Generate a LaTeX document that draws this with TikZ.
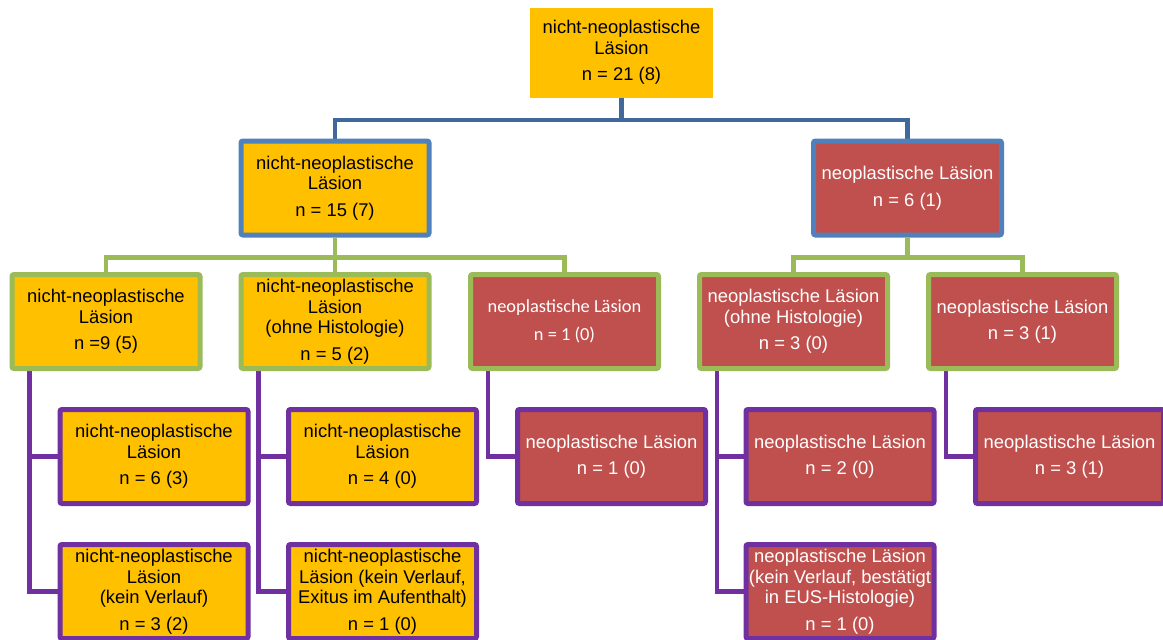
\documentclass[tikz,border=0pt]{standalone}
\usepackage{fontspec}
\setmainfont{Liberation Sans}
\newfontfamily\calibrifont{Carlito}
\usetikzlibrary{positioning,backgrounds}
\definecolor{boxyellow}{RGB}{255,192,0}
\definecolor{boxred}{RGB}{192,80,77}
\definecolor{lineblue}{RGB}{65,104,154}
\definecolor{frameblue}{RGB}{79,129,189}
\definecolor{linegreen}{RGB}{155,187,89}
\definecolor{linepurple}{RGB}{112,48,160}

\begin{document}
\begin{tikzpicture}[x=1pt,y=-1pt,
box/.style={rectangle,rounded corners=2pt,line width=5pt,minimum width=188pt,minimum height=94pt,inner sep=0pt,align=center,font=\fontsize{18.4}{20.5}\selectfont},
nnl/.style={box,fill=boxyellow,text=black},
nl/.style={box,fill=boxred,text=white},
lvone/.style={draw=frameblue},
lvtwo/.style={draw=linegreen},
lvthree/.style={draw=linepurple},
conn/.style={line width=4.5pt}]
\useasboundingbox (0,0) rectangle (1163,640);
\node[nnl,sharp corners,line width=0pt,minimum width=183pt,minimum height=90pt] (root) at (621.5,52.5) {nicht-neoplastische\\Läsion\\[6pt]n = 21 (8)};
\node[nnl,lvone] (l1a) at (335,188) {nicht-neoplastische\\Läsion\\[6pt]n = 15 (7)};
\node[nl,lvone] (l1b) at (907.5,188) {neoplastische Läsion\\[6pt]n = 6 (1)};
\node[nnl,lvtwo] (l2a) at (106,321.5) {nicht-neoplastische\\Läsion\\[6pt]n =9 (5)};
\node[nnl,lvtwo] (l2b) at (335,321.5) {nicht-neoplastische\\Läsion\\(ohne Histologie)\\[6pt]n = 5 (2)};
\node[nl,lvtwo,font=\calibrifont\fontsize{18.4}{22}\selectfont] (l2c) at (564.5,321.5) {neoplastische Läsion\\[6pt]n = 1 (0)};
\node[nl,lvtwo] (l2d) at (793.5,321.5) {neoplastische Läsion\\(ohne Histologie)\\[6pt]n = 3 (0)};
\node[nl,lvtwo] (l2e) at (1022.5,321.5) {neoplastische Läsion\\[6pt]n = 3 (1)};
\node[nnl,lvthree] (l3a) at (154,456.5) {nicht-neoplastische\\Läsion\\[6pt]n = 6 (3)};
\node[nnl,lvthree] (l3b) at (154,591.5) {nicht-neoplastische\\Läsion\\(kein Verlauf)\\[6pt]n = 3 (2)};
\node[nnl,lvthree] (l3c) at (382.5,456.5) {nicht-neoplastische\\Läsion\\[6pt]n = 4 (0)};
\node[nnl,lvthree] (l3d) at (382.5,591.5) {nicht-neoplastische\\Läsion (kein Verlauf,\\Exitus im Aufenthalt)\\[6pt]n = 1 (0)};
\node[nl,lvthree] (l3e) at (611.5,456.5) {neoplastische Läsion\\[6pt]n = 1 (0)};
\node[nl,lvthree] (l3f) at (840,456.5) {neoplastische Läsion\\[6pt]n = 2 (0)};
\node[nl,lvthree] (l3g) at (840,591.5) {neoplastische Läsion\\(kein Verlauf, bestätigt\\in EUS-Histologie)\\[6pt]n = 1 (0)};
\node[nl,lvthree] (l3h) at (1069.5,456.5) {neoplastische Läsion\\[6pt]n = 3 (1)};
\begin{scope}[on background layer]
\draw[conn,lineblue](root.south)--++(0,22.5)-|(l1a.north);
\draw[conn,lineblue](root.south)--++(0,22.5)-|(l1b.north);
\draw[conn,linegreen](l1a.south)--++(0,20)-|(l2a.north);
\draw[conn,linegreen](l1a.south)--++(0,20)-|(l2b.north);
\draw[conn,linegreen](l1a.south)--++(0,20)-|(l2c.north);
\draw[conn,linegreen](l1b.south)--++(0,20)-|(l2d.north);
\draw[conn,linegreen](l1b.south)--++(0,20)-|(l2e.north);
\draw[conn,linepurple]([xshift=20pt]l2a.south west)|-(l3a.west);
\draw[conn,linepurple]([xshift=20pt]l2a.south west)|-(l3b.west);
\draw[conn,linepurple]([xshift=20pt]l2b.south west)|-(l3c.west);
\draw[conn,linepurple]([xshift=20pt]l2b.south west)|-(l3d.west);
\draw[conn,linepurple]([xshift=20pt]l2c.south west)|-(l3e.west);
\draw[conn,linepurple]([xshift=20pt]l2d.south west)|-(l3f.west);
\draw[conn,linepurple]([xshift=20pt]l2d.south west)|-(l3g.west);
\draw[conn,linepurple]([xshift=20pt]l2e.south west)|-(l3h.west);
\end{scope}
\end{tikzpicture}
\end{document}
